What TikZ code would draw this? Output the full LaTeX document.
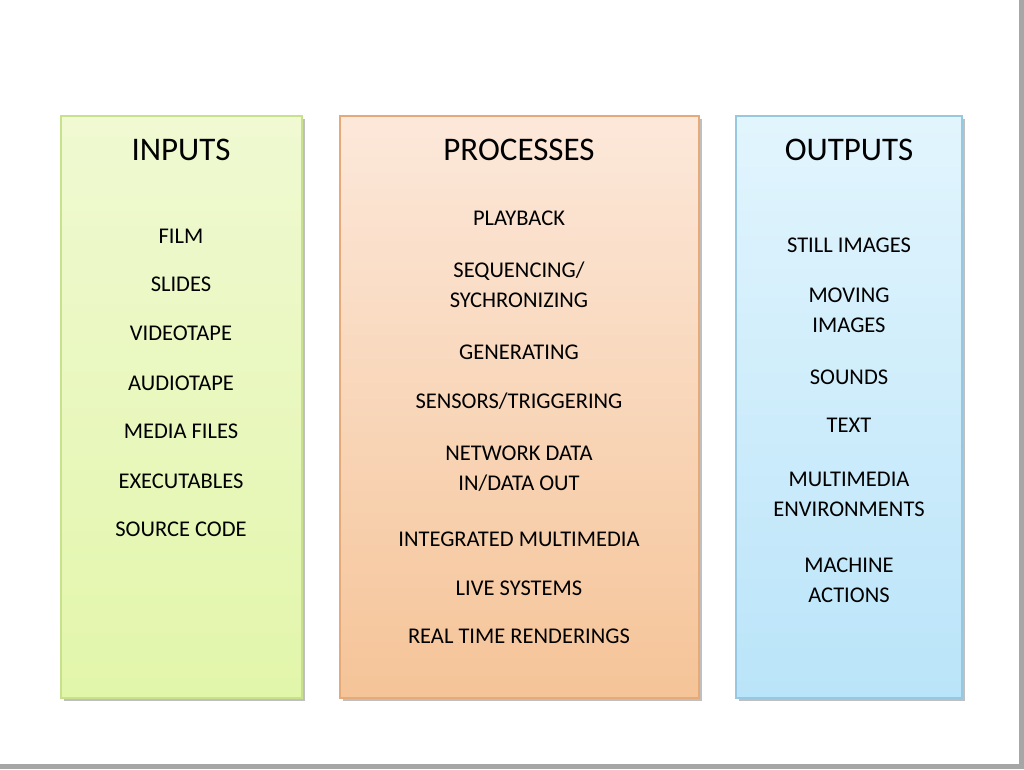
\documentclass[tikz,border=0pt]{standalone}
\usepackage{fontspec}
\setmainfont{Carlito}
\definecolor{gT}{RGB}{240,249,210}\definecolor{gB}{RGB}{226,246,170}\definecolor{gD}{RGB}{200,225,140}
\definecolor{pT}{RGB}{252,232,218}\definecolor{pB}{RGB}{245,196,152}\definecolor{pD}{RGB}{230,170,120}
\definecolor{bT}{RGB}{226,245,253}\definecolor{bB}{RGB}{186,228,249}\definecolor{bD}{RGB}{150,200,225}
\begin{document}
\begin{tikzpicture}[x=1pt,y=-1pt,
 col/.style={draw=#1,line width=1.2pt},
 ttl/.style={font=\fontsize{33}{36}\selectfont},
 itm/.style={font=\fontsize{22.5}{30}\selectfont,align=center}]
\useasboundingbox (0,0) rectangle (1024,769);
\fill[gray!70] (0,0) rectangle (1024,769);
\fill[white] (0,0) rectangle (1019,764);
\foreach \a/\b in {61/302,340/699,736/962}{\fill[black!25] (\a+3,119) rectangle (\b+3,701);}
\shade[top color=gT,bottom color=gB] (61,116) rectangle (302,698);
\draw[col=gD] (61,116) rectangle (302,698);
\shade[top color=pT,bottom color=pB] (340,116) rectangle (699,698);
\draw[col=pD] (340,116) rectangle (699,698);
\shade[top color=bT,bottom color=bB] (736,116) rectangle (962,698);
\draw[col=bD] (736,116) rectangle (962,698);
\node[ttl] (ti) at (181,150) {INPUTS};
\node[ttl] (tp) at (519,150) {PROCESSES};
\node[ttl] (to) at (849,150) {OUTPUTS};
\node[itm] (i1) at (181,236) {FILM};
\node[itm] (i2) at (181,284) {SLIDES};
\node[itm] (i3) at (181,333) {VIDEOTAPE};
\node[itm] (i4) at (181,383) {AUDIOTAPE};
\node[itm] (i5) at (181,431) {MEDIA FILES};
\node[itm] (i6) at (181,481) {EXECUTABLES};
\node[itm] (i7) at (181,529) {SOURCE CODE};
\node[itm] (p1) at (519,218) {PLAYBACK};
\node[itm] (p2) at (519,285) {SEQUENCING/\\SYCHRONIZING};
\node[itm] (p3) at (519,352) {GENERATING};
\node[itm] (p4) at (519,401) {SENSORS/TRIGGERING};
\node[itm] (p5) at (519,469) {NETWORK DATA\\IN/DATA OUT};
\node[itm] (p6) at (519,539) {INTEGRATED MULTIMEDIA};
\node[itm] (p7) at (519,588) {LIVE SYSTEMS};
\node[itm] (p8) at (519,636) {REAL TIME RENDERINGS};
\node[itm] (o1) at (849,245) {STILL IMAGES};
\node[itm] (o2) at (849,310) {MOVING\\IMAGES};
\node[itm] (o3) at (849,377) {SOUNDS};
\node[itm] (o4) at (849,425) {TEXT};
\node[itm] (o5) at (849,494) {MULTIMEDIA\\ENVIRONMENTS};
\node[itm] (o6) at (849,580) {MACHINE\\ACTIONS};
\end{tikzpicture}
\end{document}
